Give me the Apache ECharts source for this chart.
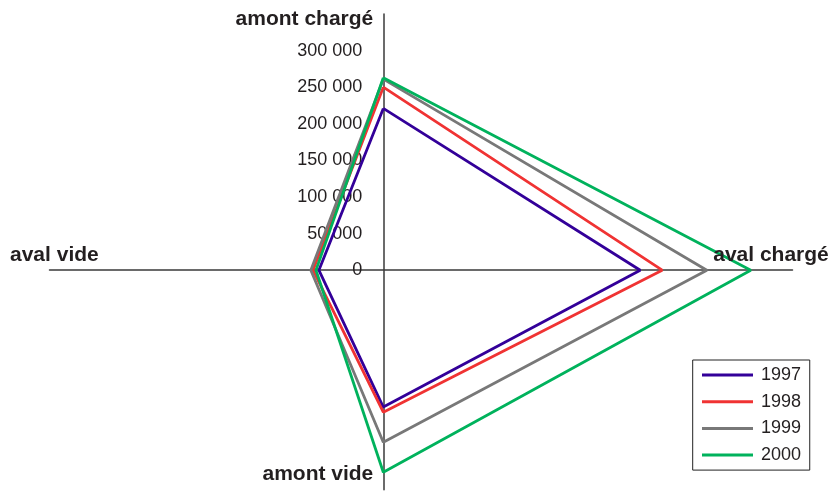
<!DOCTYPE html>
<html><head><meta charset="utf-8">
<script src="https://cdn.jsdelivr.net/npm/echarts@6/dist/echarts.min.js"></script>
<style>html,body{margin:0;padding:0;background:#fff}#c{width:833px;height:491px}</style>
</head><body><div id="c"></div>
<script>
// ---- data ----
const categories = ['amont chargé', 'aval chargé', 'amont vide', 'aval vide'];
const years = ['1997', '1998', '1999', '2000'];
const v1997 = [221000, 351000, 187000, 88000];
const v1998 = [250000, 381000, 194000, 96000];
const v1999 = [261000, 442000, 235000, 99000];
const v2000 = [263000, 502000, 276000, 92000];
const tickValues = [0, 50000, 100000, 150000, 200000, 250000, 300000];

// ---- layout ----
const seriesValues = [v1997, v1998, v1999, v2000];
const colors = ['#330099', '#F03333', '#787878', '#00B25C'];
const dirs = [[0, 1], [1, 0], [0, -1], [-1, 0]];
const X_MIN = -456000, X_MAX = 559000, Y_MIN = -300000, Y_MAX = 350000;
const GRID = { left: 49.5, right: 40.5, top: 14, bottom: 1.2 };
const GRID_W = 833 - GRID.left - GRID.right;
const Y_OFFSET = -(0 - X_MIN) / (X_MAX - X_MIN) * GRID_W;
const FONT = '"Liberation Sans", Arial, sans-serif';
const TXT = '#231F20';

function fmt(v) { return String(v).replace(/\B(?=(\d{3})+(?!\d))/g, ' '); }
function toPoints(vals) {
  const pts = vals.map((v, i) => [dirs[i][0] * v, dirs[i][1] * v]);
  pts.push(pts[0]);
  return pts;
}

const chart = echarts.init(document.getElementById('c'), null, { renderer: 'canvas' });
chart.setOption({
  backgroundColor: '#fff',
  animation: false,
  grid: Object.assign({ containLabel: false, outerBoundsMode: 'none' }, GRID),
  xAxis: {
    type: 'value', min: X_MIN, max: X_MAX,
    axisLine: { onZero: true, lineStyle: { color: '#3a3a3a', width: 1.5 } },
    axisTick: { show: false }, axisLabel: { show: false }, splitLine: { show: false }
  },
  yAxis: {
    type: 'value', min: Y_MIN, max: Y_MAX, interval: 50000,
    position: 'left', offset: Y_OFFSET,
    axisLine: { onZero: false, lineStyle: { color: '#3a3a3a', width: 1.5 } },
    axisTick: { show: false }, splitLine: { show: false },
    axisLabel: {
      margin: 21, fontFamily: FONT, fontSize: 18, color: TXT, padding: [3, 0, 0, 0],
      formatter: v => tickValues.indexOf(v) >= 0 ? fmt(v) : ''
    }
  },
  legend: {
    orient: 'vertical', left: 692.7, top: 360,
    padding: [6, 8.7, 6, 9.3], itemGap: 8.7,
    itemWidth: 51, itemHeight: 3, icon: 'rect',
    borderColor: '#222', borderWidth: 1,
    textStyle: { fontFamily: FONT, fontSize: 18, color: TXT, lineHeight: 18, padding: [0, 0, 0, 3] },
    data: years
  },
  series: years.map((y, i) => ({
    name: y, type: 'line', data: toPoints(seriesValues[i]),
    symbol: 'none', color: colors[i],
    lineStyle: { width: 2.8, color: colors[i] }, z: 3 + i
  }))
});

// axis-name labels, placed from the axis ends
const ends = [[0, Y_MAX], [X_MAX, 0], [0, Y_MIN], [X_MIN, 0]];
const labelLayout = [
  { dx: -10, dy: 5, align: 'right' },
  { dx: -21.5, dy: -15, align: 'center' },
  { dx: -10, dy: -16, align: 'right' },
  { dx: -39.5, dy: -15, align: 'left' }
];
const graphics = categories.map((name, i) => {
  const p = chart.convertToPixel({ gridIndex: 0 }, ends[i]);
  return {
    type: 'text', x: p[0] + labelLayout[i].dx, y: p[1] + labelLayout[i].dy, z: 10,
    style: { text: name, font: 'bold 21px ' + FONT, fill: TXT, align: labelLayout[i].align, verticalAlign: 'middle' }
  };
});
chart.setOption({ graphic: graphics });
</script></body></html>
